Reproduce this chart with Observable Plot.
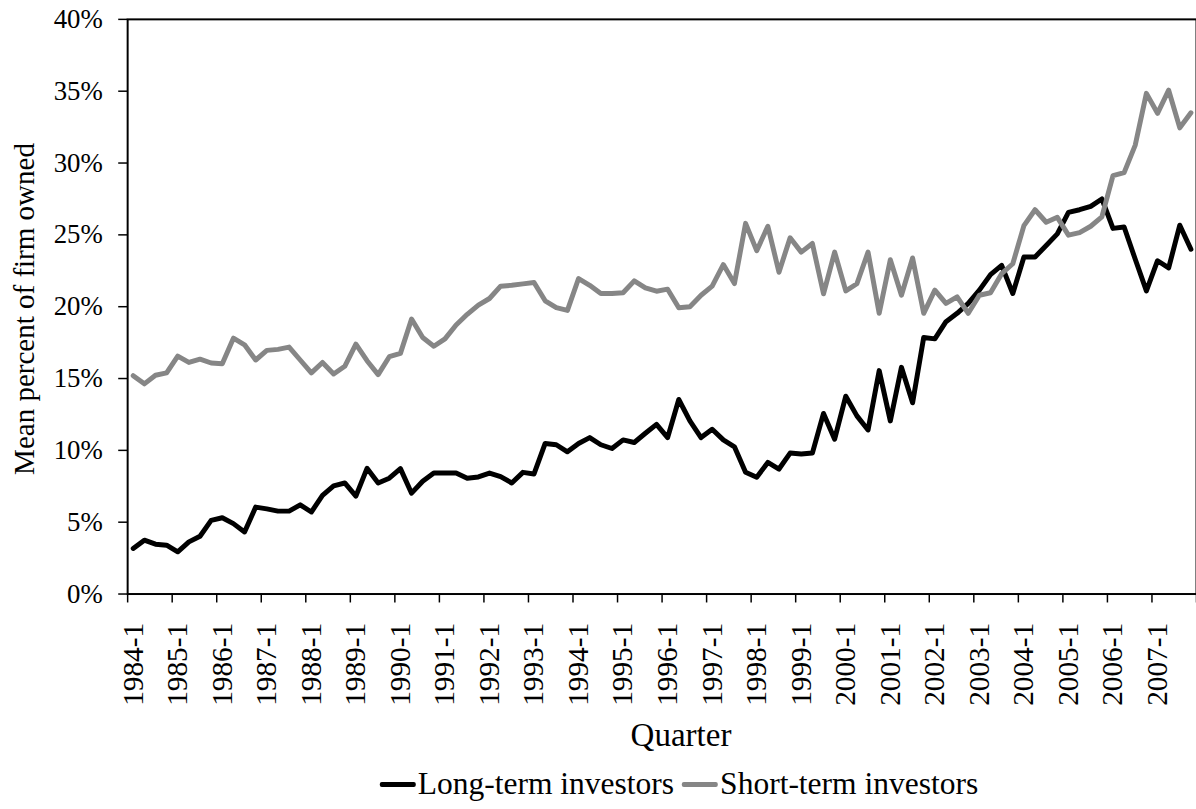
<!DOCTYPE html>
<html>
<head>
<meta charset="utf-8">
<script src="https://cdn.jsdelivr.net/npm/d3@7"></script>
<script src="https://cdn.jsdelivr.net/npm/@observablehq/plot@0.6"></script>
<style>
  html, body { margin: 0; padding: 0; background: #fff; overflow: hidden; }
  #wrap { position: relative; width: 1196px; height: 809px; overflow: hidden; font-family: "Liberation Serif", "Times New Roman", serif; color: #000; }
  #chart { position: absolute; left: 0; top: 0; }
  .ytitle { position: absolute; left: 24px; top: 309px; transform: translate(-50%, -50%) rotate(-90deg); white-space: nowrap; font-size: 29px; }
  .xtitle { position: absolute; left: 681px; top: 735px; transform: translate(-50%, -50%); white-space: nowrap; font-size: 33px; }
  .legend { position: absolute; left: 679px; top: 784px; transform: translate(-50%, -50%); white-space: nowrap; font-size: 31.5px; display: flex; align-items: center; }
  .sw { display: inline-block; width: 36px; height: 5px; border-radius: 2px; margin-right: 2px; }
  .item { display: flex; align-items: center; margin: 0 4px; }
</style>
</head>
<body>
<div id="wrap">
  <div id="chart"></div>
  <div class="ytitle">Mean percent of firm owned</div>
  <div class="xtitle">Quarter</div>
  <div class="legend" id="legend"></div>
</div>
<script>
// ---- Data ----
const years = [1984,1985,1986,1987,1988,1989,1990,1991,1992,1993,1994,1995,1996,1997,1998,1999,2000,2001,2002,2003,2004,2005,2006,2007];
const quarterNums = [1,2,3,4];
const tickLabels = ["1984-1","1985-1","1986-1","1987-1","1988-1","1989-1","1990-1","1991-1","1992-1","1993-1","1994-1","1995-1","1996-1","1997-1","1998-1","1999-1","2000-1","2001-1","2002-1","2003-1","2004-1","2005-1","2006-1","2007-1"];
const yTicks = [0,5,10,15,20,25,30,35,40];
const seriesNames = ["Long-term investors","Short-term investors"];
const seriesColors = ["#000000","#868686"];

// Mean percent of firm owned (%), quarterly 1984-1 .. 2007-4
const longTerm = [
  3.17,3.75,3.47,3.40, 2.94,3.63,4.02,5.13, 5.31,4.90,4.32,6.05, 5.93,5.77,5.77,6.21,
  5.71,6.86,7.53,7.73, 6.81,8.75,7.73,8.06, 8.73,7.02,7.85,8.43, 8.43,8.43,8.06,8.15,
  8.42,8.17,7.73,8.47, 8.36,10.48,10.39,9.90, 10.48,10.89,10.39,10.13, 10.73,10.55,11.19,11.81,
  10.89,13.54,12.05,10.89, 11.47,10.73,10.25,8.47, 8.13,9.16,8.70,9.81, 9.74,9.81,12.57,10.78,
  13.77,12.40,11.42,15.55, 12.05,15.78,13.31,17.86, 17.76,18.96,19.54,20.23, 21.15,22.23,22.88,20.92,
  23.46,23.46,24.26,25.07, 26.57,26.75,26.98,27.50, 25.45,25.55,23.30,21.10, 23.20,22.70,25.67,24.00
];
const shortTerm = [
  15.20,14.63,15.23,15.39, 16.56,16.12,16.35,16.08, 16.03,17.81,17.35,16.29, 16.96,17.03,17.19,16.29,
  15.39,16.12,15.32,15.85, 17.39,16.24,15.27,16.52, 16.75,19.14,17.85,17.25, 17.76,18.73,19.47,20.11,
  20.57,21.43,21.49,21.59, 21.68,20.41,19.93,19.74, 21.96,21.49,20.92,20.92, 20.97,21.80,21.31,21.08,
  21.22,19.93,20.00,20.80, 21.43,22.93,21.61,25.80, 23.90,25.60,22.40,24.80, 23.80,24.40,20.90,23.80,
  21.10,21.60,23.80,19.54, 23.27,20.80,23.39,19.54, 21.15,20.23,20.69,19.54, 20.80,20.97,22.30,22.99,
  25.64,26.75,25.88,26.22, 24.98,25.16,25.60,26.25, 29.12,29.33,31.25,34.85, 33.46,35.07,32.45,33.50
];

// ---- Build table ----
const quarters = years.flatMap(y => quarterNums.map(q => `${y}-${q}`));
const rows = [];
[longTerm, shortTerm].forEach((vals, s) => {
  vals.forEach((v, i) => rows.push({i, quarter: quarters[i], series: seriesNames[s], value: v}));
});
const labelIdx = tickLabels.map(t => quarters.indexOf(t));
const boundaryIdx = labelIdx.map(i => i - 0.5).concat([quarters.length - 0.5]);

const W = 1204, H = 750;
const chart = Plot.plot({
  width: W,
  height: H,
  marginLeft: 128,
  marginRight: 0,
  marginTop: 19,
  marginBottom: 152.5,
  style: {fontFamily: "'Liberation Serif', 'Times New Roman', serif", fontSize: "27px", color: "#000", background: "#fff", overflow: "visible"},
  x: {type: "linear", domain: [-0.5, quarters.length - 0.5]},
  y: {domain: [0, 40]},
  color: {domain: seriesNames, range: seriesColors},
  marks: [
    Plot.frame({stroke: "#000", strokeWidth: 2}),
    Plot.axisY({ticks: yTicks, tickFormat: d => d + "%", tickSize: 9, tickPadding: 16, label: null, fontSize: 27, strokeWidth: 1.5}),
    Plot.axisX({ticks: boundaryIdx, tickFormat: () => "", tickSize: 9, label: null, strokeWidth: 1.5}),
    Plot.axisX({ticks: labelIdx, tickFormat: i => quarters[i], tickSize: 0, tickPadding: 29, tickRotate: -90, label: null, fontSize: 29.5}),
    Plot.lineY(rows, {x: "i", y: "value", z: "series", stroke: "series", strokeWidth: 5, strokeLinejoin: "round", strokeLinecap: "round"})
  ]
});
document.getElementById("chart").appendChild(chart);

// Legend
const legend = document.getElementById("legend");
seriesNames.forEach((name, k) => {
  const item = document.createElement("span");
  item.className = "item";
  const sw = document.createElement("span");
  sw.className = "sw";
  sw.style.background = seriesColors[k];
  item.appendChild(sw);
  item.appendChild(document.createTextNode(name));
  legend.appendChild(item);
});
</script>
</body>
</html>
